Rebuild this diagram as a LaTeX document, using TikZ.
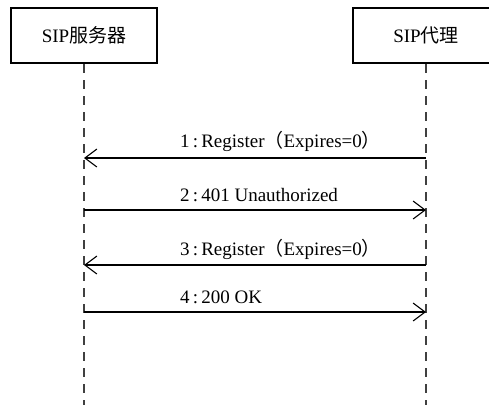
\documentclass[tikz,border=0pt]{standalone}
\usepackage{fontspec}
\setmainfont{Liberation Serif}
\newfontfamily\cjk{Noto Sans CJK SC}
\usetikzlibrary{arrows.meta}
\begin{document}
\begin{tikzpicture}[x=1pt,y=-1pt,
  actor/.style={draw=black,line width=2pt,fill=white,minimum width=146pt,minimum height=55pt,inner sep=0pt,font=\fontsize{19}{22}\selectfont},
  lifeline/.style={draw=black!75,line width=1.2pt,dash pattern=on 9pt off 7pt},
  msg/.style={draw=black,line width=1.1pt,-{Straight Barb[length=12pt,width=18pt,line width=1.1pt]}},
  lab/.style={anchor=base west,inner sep=0pt,font=\fontsize{19}{22}\selectfont}]
\useasboundingbox (0,0) rectangle (489,405);
\clip (0,0) rectangle (489,405);
\fill[white] (0,0) rectangle (489,405);
% lifelines
\coordinate (Lend) at (84,405);
\coordinate (Rend) at (426,405);
\node[actor] (server) at (84,35.5) {SIP{\cjk 服务器}};
\node[actor] (proxy) at (426,35.5) {SIP{\cjk 代理}};
\draw[lifeline] (server.south) -- (Lend);
\draw[lifeline] (proxy.south) -- (Rend);
% message endpoints
\coordinate (L1) at (84,158);  \coordinate (R1) at (426,158);
\coordinate (L2) at (84,210);  \coordinate (R2) at (426,210);
\coordinate (L3) at (84,265);  \coordinate (R3) at (426,265);
\coordinate (L4) at (84,312);  \coordinate (R4) at (426,312);
\draw[msg] (R1) -- (L1);
\draw[msg] (L2) -- (R2);
\draw[msg] (R3) -- (L3);
\draw[msg] (L4) -- (R4);
\node[lab] (t1) at (180,147) {1\,:\,Register{\cjk （}Expires=0{\cjk ）}};
\node[lab] (t2) at (180,201.5) {2\,:\,401 Unauthorized};
\node[lab] (t3) at (180,255) {3\,:\,Register{\cjk （}Expires=0{\cjk ）}};
\node[lab] (t4) at (180,303) {4\,:\,200 OK};
\end{tikzpicture}
\end{document}
